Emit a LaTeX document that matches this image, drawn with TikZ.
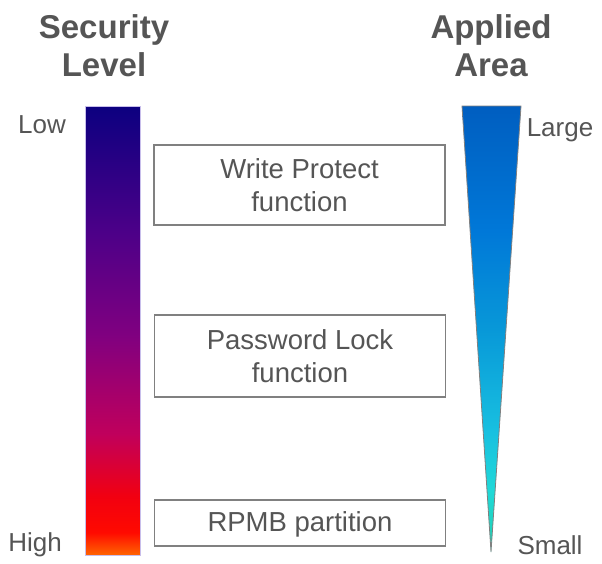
\documentclass[tikz,border=0pt]{standalone}
\usepackage{fontspec}
\setmainfont{Liberation Sans}
\usetikzlibrary{positioning}
\definecolor{txtcol}{RGB}{85,85,85}
\definecolor{boxcol}{RGB}{128,128,128}
\definecolor{barframe}{RGB}{200,190,235}
\definecolor{sec0}{RGB}{255,100,0}
\definecolor{sec1}{RGB}{255,10,0}
\definecolor{sec2}{RGB}{242,0,16}
\definecolor{sec3}{RGB}{192,0,92}
\definecolor{sec4}{RGB}{128,0,128}
\definecolor{sec5}{RGB}{76,0,136}
\definecolor{sec6}{RGB}{12,0,128}
\definecolor{area0}{RGB}{32,208,176}
\definecolor{area1}{RGB}{32,216,216}
\definecolor{area2}{RGB}{24,192,224}
\definecolor{area3}{RGB}{8,152,216}
\definecolor{area4}{RGB}{0,120,216}
\definecolor{area5}{RGB}{0,94,192}
\pgfdeclareverticalshading{secshade}{100bp}{%
  color(0bp)=(sec0); color(25bp)=(sec0); color(27.5bp)=(sec1); color(31.5bp)=(sec2);
  color(38.5bp)=(sec3); color(49.5bp)=(sec4); color(61bp)=(sec5); color(75bp)=(sec6); color(100bp)=(sec6)}
\pgfdeclareverticalshading{areashade}{100bp}{%
  color(0bp)=(area0); color(25bp)=(area0); color(32bp)=(area1); color(38.5bp)=(area2);
  color(50bp)=(area3); color(61bp)=(area4); color(75bp)=(area5); color(100bp)=(area5)}

\begin{document}
\begin{tikzpicture}[
    x=1pt, y=-1pt,
    title/.style={font=\fontsize{33}{38}\selectfont\bfseries, text=txtcol, align=center},
    scalelabel/.style={font=\fontsize{26}{30}\selectfont, text=txtcol},
    fnbox/.style={rectangle, draw=boxcol, line width=1.1pt, text=txtcol, align=center, minimum width=291pt, font=\fontsize{27.5}{33}\selectfont},
]
\useasboundingbox (0,0) rectangle (602,563);

\node[title] (sectitle) at (104,46) {Security\\Level};
\node[title] (areatitle) at (491,46) {Applied\\Area};

\node[rectangle, minimum width=55pt, minimum height=449pt, shading=secshade, draw=barframe, line width=0.6pt, inner sep=0pt] (secbar) at (112.5,330.5) {};
\node[scalelabel] (low) at (42,125) {Low};
\node[scalelabel] (high) at (35,545) {High};

\coordinate (atl) at (462,106);
\coordinate (atr) at (521,106);
\coordinate (atip) at (491,552);
\shade[shading=areashade, draw=boxcol, line width=0.8pt] (atl) -- (atr) -- (atip) -- cycle;
\node[scalelabel] (large) at (560,130) {Large};
\node[scalelabel] (small) at (550,545) {Small};

\node[fnbox, minimum height=80pt] (wp) at (299.5,185) {Write Protect\\function};
\node[fnbox, minimum height=82pt] (pl) at (300,356) {Password Lock\\function};
\node[fnbox, minimum height=46pt, text height=20pt, text depth=4pt] (rpmb) at (300,523) {RPMB partition};
\end{tikzpicture}
\end{document}
